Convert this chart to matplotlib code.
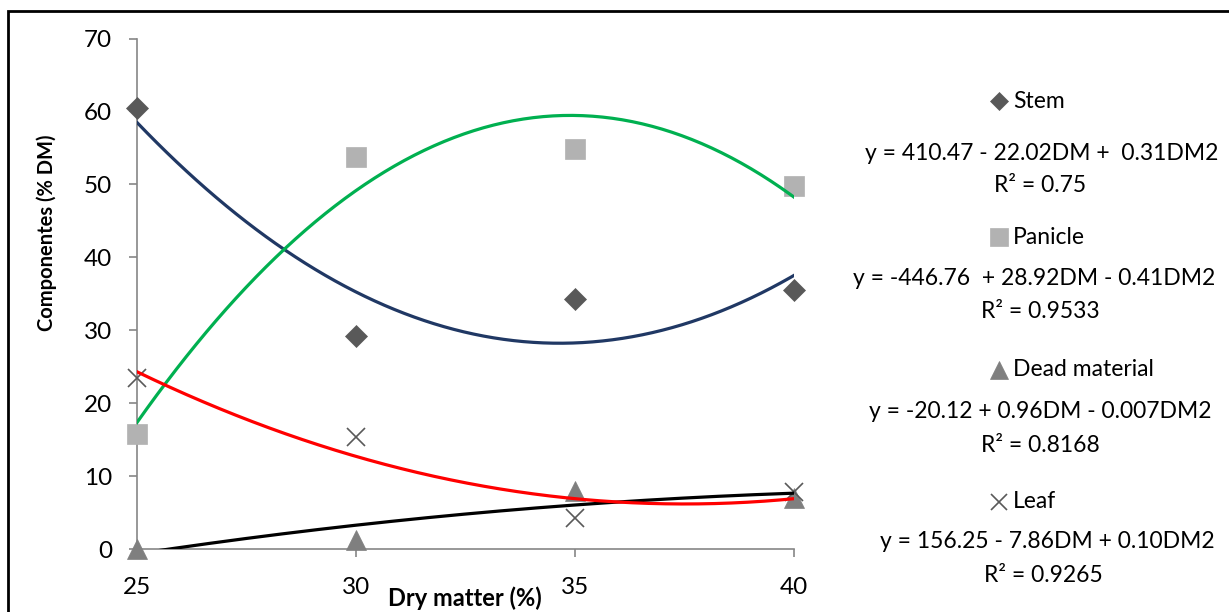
import numpy as np
import matplotlib
matplotlib.use("Agg")
import matplotlib.pyplot as plt
from matplotlib.lines import Line2D
from matplotlib.patches import Rectangle

plt.rcParams['font.family'] = ['Lato', 'DejaVu Sans']

dm = [25, 30, 35, 40]
stem = [60.5, 29.2, 34.3, 35.5]
panicle = [15.8, 53.8, 54.8, 49.8]
dead = [0.0, 1.3, 8.0, 7.0]
leaf = [23.4, 15.4, 4.2, 7.8]

names = ["Stem", "Panicle", "Dead material", "Leaf"]
equations = ["y = 410.47 - 22.02DM +  0.31DM2",
             "y = -446.76  + 28.92DM - 0.41DM2",
             "y = -20.12 + 0.96DM - 0.007DM2",
             "y = 156.25 - 7.86DM + 0.10DM2"]
r2 = ["R² = 0.75", "R² = 0.9533", "R² = 0.8168", "R² = 0.9265"]

W, H = 1229, 612
fig = plt.figure(figsize=(W / 100, H / 100), dpi=100)
ax = fig.add_axes([137 / W, 1 - 549 / H, (794 - 137) / W, (549 - 38.5) / H])

# marker styles: (marker, color, size, edge width)
styles = [("D", "#595959", 11, 0.5),
          ("s", "#b2b2b2", 14, 0.5),
          ("^", "#7f7f7f", 14, 0.5),
          ("x", "#595959", 13, 1.2)]
line_colors = ["#203864", "#00b050", "#000000", "#ff0000"]
series = [stem, panicle, dead, leaf]

for y, (m, c, s, ew) in zip(series, styles):
    ax.plot(dm, y, linestyle="none", marker=m, color=c, markersize=s,
            markeredgewidth=ew, markeredgecolor=c, zorder=3, clip_on=False)

xs = np.linspace(25, 40, 200)
for y, lc in zip(series, line_colors):
    coef = np.polyfit(dm, y, 2)
    ax.plot(xs, np.polyval(coef, xs), color=lc, linewidth=2.3, zorder=4)

ax.set_xlim(25, 40)
ax.set_ylim(0, 70)
ax.set_xticks(dm)
ax.set_yticks(range(0, 71, 10))
for sp in ["top", "right"]:
    ax.spines[sp].set_visible(False)
for sp in ["left", "bottom"]:
    ax.spines[sp].set_color("#868686")
    ax.spines[sp].set_linewidth(1.2)
ax.tick_params(direction="out", length=6, width=1.2, color="#868686",
               labelsize=17.5, pad=12)
ax.tick_params(axis="x", pad=14)

fig.text(47 / W, 1 - 233 / H, "Componentes (% DM)", rotation=90,
         ha="center", va="center", fontsize=14.5, fontweight="bold")
fig.text(465 / W, 1 - 598 / H, "Dry matter (%)", ha="center", va="center",
         fontsize=17, fontweight="bold")

# right-hand legend with equations
leg_y = [101, 237, 370, 502]
eq_pos = [(1042, 153), (1034, 279), (1040, 412), (1047, 542)]
r2_pos = [(1040, 185), (1040, 311), (1040, 445), (1043, 575)]
leg_sizes = [9, 13, 13, 12]
for i in range(4):
    m, c, s, ew = styles[i]
    fig.add_artist(Line2D([999 / W], [1 - leg_y[i] / H], marker=m, color=c,
                          markersize=leg_sizes[i], markeredgewidth=ew,
                          markeredgecolor=c, linestyle="none",
                          transform=fig.transFigure))
    fig.text(1013 / W, 1 - leg_y[i] / H, names[i], ha="left", va="center",
             fontsize=16.5)
    fig.text(eq_pos[i][0] / W, 1 - eq_pos[i][1] / H, equations[i],
             ha="center", va="center", fontsize=16.5)
    fig.text(r2_pos[i][0] / W, 1 - r2_pos[i][1] / H, r2[i],
             ha="center", va="center", fontsize=16.5)

# chart border (cut at right and bottom as in the source)
fig.add_artist(Rectangle((8 / W, -0.1), 1.2, 0.1 + (1 - 11 / H),
                         transform=fig.transFigure, fill=False,
                         edgecolor="black", linewidth=2, clip_on=False))

fig.savefig("out.png", dpi=100)
